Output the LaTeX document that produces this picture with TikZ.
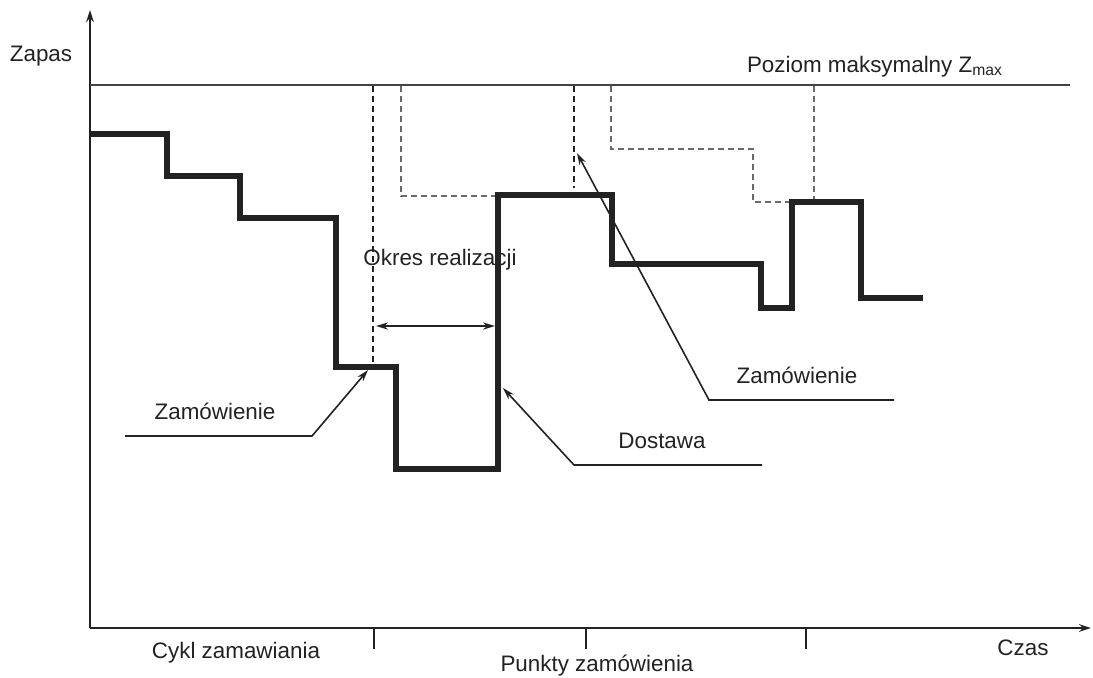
\documentclass[tikz,border=0pt]{standalone}
\usepackage{fontspec}
\setmainfont{Liberation Sans}
\usetikzlibrary{arrows.meta}
\definecolor{ink}{HTML}{222222}
\definecolor{dashgray}{HTML}{6A6A6A}
\begin{document}
\begin{tikzpicture}[x=0.5pt,y=-0.5pt,
  lbl/.style={inner sep=0pt,anchor=base,text=ink,font=\fontsize{11.2}{13}\selectfont},
  axis/.style={draw=ink,line width=1pt,-{Stealth[length=6pt,width=3.8pt]}},
  stock/.style={draw=ink,line width=3.2pt,line join=miter},
  darkdash/.style={draw=ink,line width=0.8pt,dash pattern=on 3pt off 2pt},
  graydash/.style={draw=dashgray,line width=0.7pt,dash pattern=on 3pt off 2pt},
  pointer/.style={draw=ink,line width=0.8pt,-{Stealth[length=6pt,width=3.6pt]}},
  tick/.style={draw=ink,line width=0.7pt}]
\useasboundingbox (0,0) rectangle (1093,677);

% axes
\coordinate (O) at (90,628);
\coordinate (ytop) at (90,10);
\coordinate (xend) at (1091,628);
\draw[axis] (O) -- (ytop);
\draw[axis] (O) -- (xend);

% maximum level
\coordinate (zmaxL) at (90,85);
\coordinate (zmaxR) at (1070,85);
\draw[draw=ink!85,line width=1pt] (zmaxL) -- (zmaxR);

% ticks on the time axis
\foreach \tx/\nm in {374/t1,586/t2,806/t3}{
  \coordinate (\nm a) at (\tx,628);
  \coordinate (\nm b) at (\tx,649);
  \draw[tick] (\nm a) -- (\nm b);
}

% order-up-to guides
\draw[darkdash] (373,86) -- (373,364);
\draw[darkdash] (574,86) -- (574,188);
\draw[graydash] (401,86) -- (401,196) -- (497,196);
\draw[graydash] (611,86) -- (611,149) -- (753,149) -- (753,202) -- (790,202);
\draw[graydash] (814,86) -- (814,199);

% stock level
\draw[stock] (90,134) -- (167,134) -- (167,176) -- (240,176) -- (240,218)
  -- (336,218) -- (336,367) -- (396,367) -- (396,469) -- (498,469)
  -- (498,195) -- (612,195) -- (612,264) -- (761,264) -- (761,308)
  -- (792,308) -- (792,202) -- (861,202) -- (861,298) -- (923,298);

% lead time
\coordinate (ltL) at (376,326);
\coordinate (ltR) at (495,326);
\draw[draw=ink,line width=0.9pt,{Stealth[length=6pt,width=3.6pt]}-{Stealth[length=6pt,width=3.6pt]}] (ltL) -- (ltR);

% callouts
\coordinate (zam1tip) at (368,370);
\coordinate (zam1knee) at (312,436);
\coordinate (zam1end) at (125,436);
\draw[pointer] (zam1end) -- (zam1knee) -- (zam1tip);

\coordinate (dostip) at (503,388);
\coordinate (dosknee) at (574,465);
\coordinate (dosend) at (762,465);
\draw[pointer] (dosend) -- (dosknee) -- (dostip);

\coordinate (zam2tip) at (577,153);
\coordinate (zam2knee) at (709,400);
\coordinate (zam2end) at (894,400);
\draw[pointer] (zam2end) -- (zam2knee) -- (zam2tip);

% labels
\node[lbl] (zapas) at (41,61) {Zapas};
\node[lbl] (zmax) at (875,72) {Poziom maksymalny Z\textsubscript{max}};
\node[lbl] (okres) at (440,265) {Okres realizacji};
\node[lbl] (zam1) at (215,419) {Zamówienie};
\node[lbl] (zam2) at (797,383) {Zamówienie};
\node[lbl] (dost) at (662,448) {Dostawa};
\node[lbl] (cykl) at (236,658) {Cykl zamawiania};
\node[lbl] (punkty) at (597,671) {Punkty zamówienia};
\node[lbl] (czas) at (1023,655) {Czas};
\end{tikzpicture}
\end{document}
